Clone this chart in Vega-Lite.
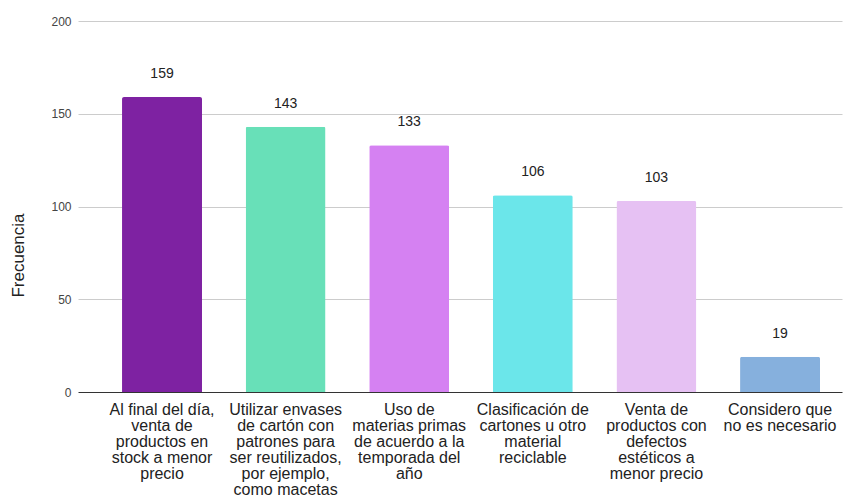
{
  "$schema": "https://vega.github.io/schema/vega-lite/v6.json",
  "autosize": {"type": "none"},
  "padding": {"left": 78, "top": 21, "right": 10, "bottom": 104},
  "width": 764,
  "height": 371,
  "background": "white",
  "config": {
    "view": {"stroke": null},
    "font": "Liberation Sans"
  },
  "data": {
    "values": [
      {"categoria": "Al final del día,\nventa de\nproductos en\nstock a menor\nprecio", "frecuencia": 159},
      {"categoria": "Utilizar envases\nde cartón con\npatrones para\nser reutilizados,\npor ejemplo,\ncomo macetas", "frecuencia": 143},
      {"categoria": "Uso de\nmaterias primas\nde acuerdo a la\ntemporada del\naño", "frecuencia": 133},
      {"categoria": "Clasificación de\ncartones u otro\nmaterial\nreciclable", "frecuencia": 106},
      {"categoria": "Venta de\nproductos con\ndefectos\nestéticos a\nmenor precio", "frecuencia": 103},
      {"categoria": "Considero que\nno es necesario", "frecuencia": 19}
    ]
  },
  "encoding": {
    "x": {
      "field": "categoria",
      "type": "nominal",
      "sort": null,
      "scale": {"paddingInner": 0.353, "paddingOuter": 0.267, "align": 0.667},
      "axis": {
        "title": null,
        "labelAngle": 0,
        "labelExpr": "split(datum.label, '\\n')",
        "labelFont": "Liberation Sans",
        "labelFontSize": 16,
        "labelColor": "#222222",
        "labelLineHeight": 16,
        "labelBaseline": "top",
        "labelPadding": 9,
        "labelLimit": 200,
        "ticks": false,
        "domain": false,
        "grid": false
      }
    },
    "y": {
      "field": "frecuencia",
      "type": "quantitative",
      "scale": {"domain": [0, 200], "nice": false},
      "axis": {
        "title": "Frecuencia",
        "titleFont": "Liberation Sans",
        "titleFontSize": 17,
        "titleFontWeight": "normal",
        "titleColor": "#222222",
        "titleX": -60,
        "titleY": 234,
        "titleAnchor": "middle",
        "titleBaseline": "middle",
        "values": [0, 50, 100, 150, 200],
        "labelFont": "Liberation Sans",
        "labelFontSize": 12,
        "labelColor": "#444444",
        "labelPadding": 7,
        "ticks": false,
        "domain": false,
        "gridColor": {"condition": {"test": "datum.value === 0", "value": "#333333"}, "value": "#cccccc"},
        "gridWidth": 1
      }
    }
  },
  "layer": [
    {
      "mark": {"type": "bar", "cornerRadiusTopLeft": 2, "cornerRadiusTopRight": 2},
      "encoding": {
        "color": {
          "field": "categoria",
          "type": "nominal",
          "sort": null,
          "legend": null,
          "scale": {"range": ["#7e22a2", "#68e0b8", "#d581f2", "#6be6ea", "#e6c1f3", "#86b0dd"]}
        }
      }
    },
    {
      "mark": {"type": "text", "dy": -23, "font": "Liberation Sans", "fontSize": 14, "color": "#222222", "baseline": "middle"},
      "encoding": {
        "text": {"field": "frecuencia", "type": "quantitative"}
      }
    }
  ]
}
